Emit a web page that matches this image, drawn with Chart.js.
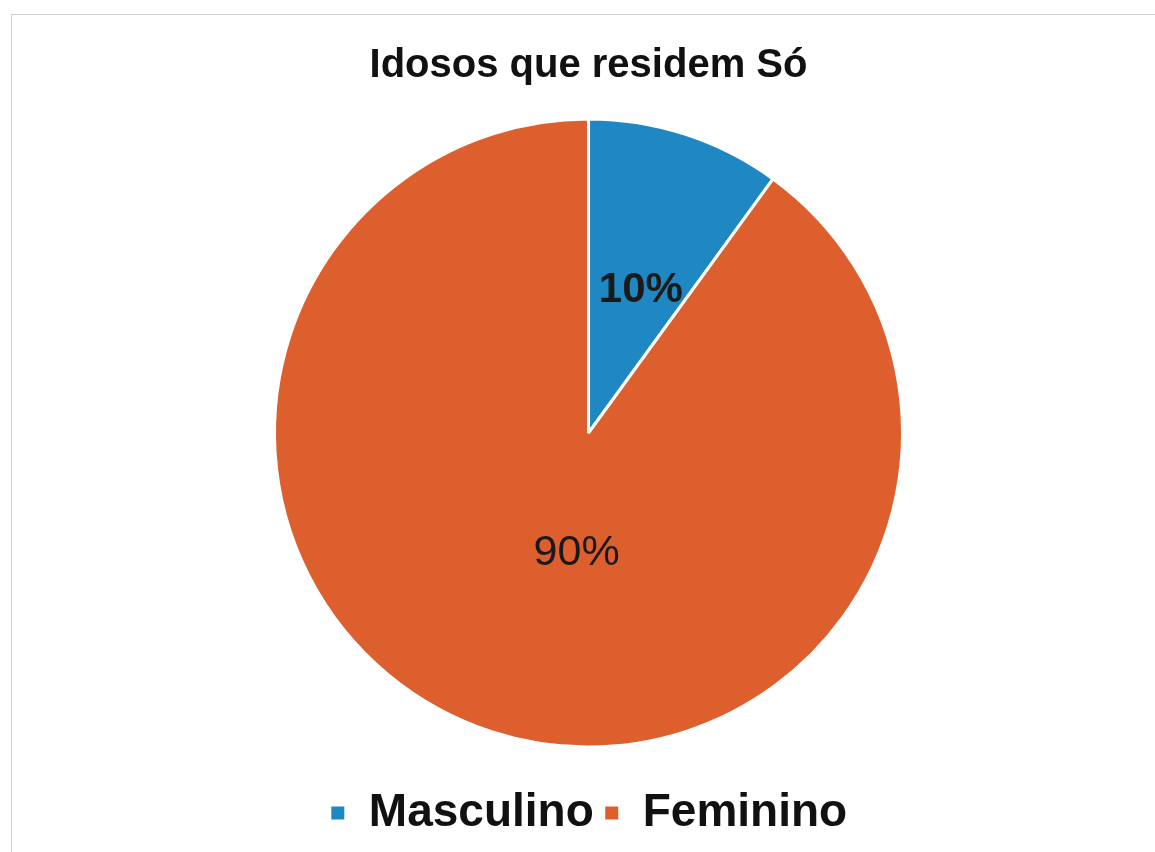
<!DOCTYPE html>
<html>
<head>
<meta charset="utf-8">
<script src="https://cdn.jsdelivr.net/npm/chart.js@4"></script>
<style>
html,body{margin:0;padding:0;background:#fff;}
#wrap{position:relative;width:1155px;height:852px;overflow:hidden;}
#frame{position:absolute;left:11px;top:14px;width:1160px;height:860px;border-left:1.5px solid #cfcfcf;border-top:1.5px solid #cfcfcf;pointer-events:none;}
canvas{position:absolute;left:0;top:0;}
</style>
</head>
<body>
<div id="wrap">
<canvas id="c" width="1155" height="852"></canvas>
<div id="frame"></div>
</div>
<script>
const chartTitle = "Idosos que residem Só";
const categories = ["Masculino", "Feminino"];
const values = [10, 90];
const valueLabels = ["10%", "90%"];
const colors = ["#1F87C2", "#DD5F2E"];

const labelPlugin = {
  id: 'sliceLabels',
  afterDatasetsDraw(chart, args, opts) {
    const ctx = chart.ctx;
    const meta = chart.getDatasetMeta(0);
    meta.data.forEach((arc, i) => {
      const p = arc.getProps(['x','y','startAngle','endAngle','outerRadius'], true);
      const mid = (p.startAngle + p.endAngle) / 2;
      const r = p.outerRadius * opts.dist[i];
      const x = p.x + Math.cos(mid) * r + opts.dx[i];
      const y = p.y + Math.sin(mid) * r + opts.dy[i];
      ctx.save();
      ctx.font = opts.fonts[i];
      ctx.fillStyle = '#1a1a1a';
      ctx.textAlign = 'center';
      ctx.textBaseline = 'middle';
      ctx.fillText(valueLabels[i], x, y);
      ctx.restore();
    });
  }
};

new Chart(document.getElementById('c'), {
  type: 'pie',
  data: {
    labels: categories,
    datasets: [{
      data: values,
      backgroundColor: colors,
      borderColor: '#ffffff',
      borderWidth: 3,
      radius: 314
    }]
  },
  options: {
    responsive: false,
    animation: false,
    devicePixelRatio: 1,
    layout: { padding: { left: 22, right: 0, top: 0, bottom: 6 } },
    plugins: {
      title: {
        display: true,
        text: chartTitle,
        color: '#111',
        font: { family: 'Liberation Sans, Arial, sans-serif', size: 40, weight: 'bold', lineHeight: 1.0 },
        padding: { top: 46, bottom: 0 }
      },
      legend: {
        position: 'bottom',
        labels: {
          color: '#111',
          font: { family: 'Liberation Sans, Arial, sans-serif', size: 46, weight: 'bold' },
          boxWidth: 16,
          boxHeight: 16,
          padding: 10
        }
      },
      tooltip: { enabled: false },
      sliceLabels: {
        dist: [0.54, 0.38],
        dx: [0, 25],
        dy: [19, 7],
        fonts: ['bold 42px Liberation Sans, Arial, sans-serif', '43px Liberation Sans, Arial, sans-serif']
      }
    }
  },
  plugins: [labelPlugin]
});
</script>
</body>
</html>
